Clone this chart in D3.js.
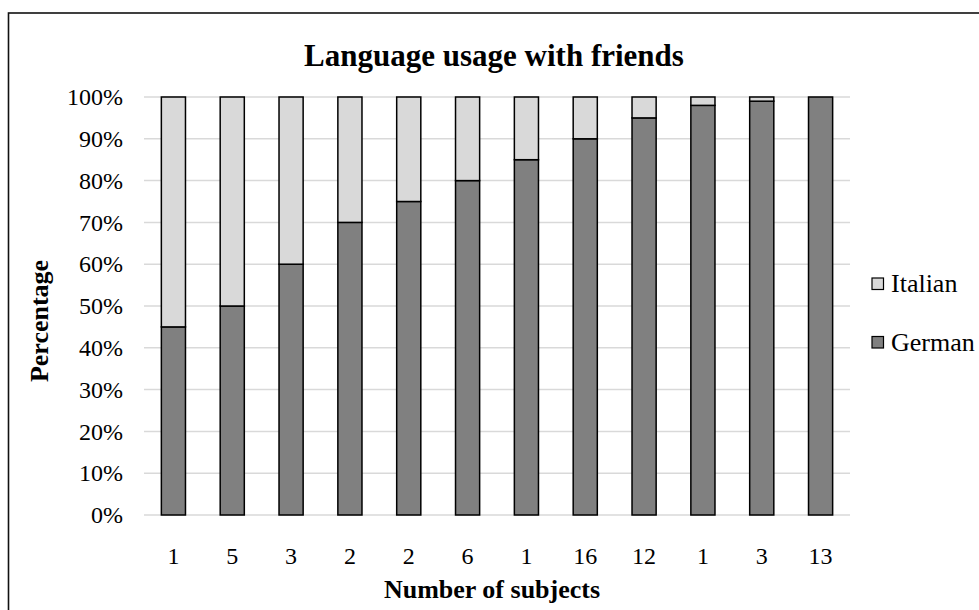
<!DOCTYPE html>
<html><head><meta charset="utf-8">
<script src="https://cdn.jsdelivr.net/npm/d3@7"></script>
<style>body{margin:0;background:#fff}svg{display:block}text{font-family:"Liberation Serif","Times New Roman",serif}</style>
</head><body><svg id="c" width="979" height="610"></svg>
<script>
const categories = ["1","5","3","2","2","6","1","16","12","1","3","13"];
const german = [45,50,60,70,75,80,85,90,95,98,99,100];
const italian = [55,50,40,30,25,20,15,10,5,2,1,0];
const yTicks = [0,10,20,30,40,50,60,70,80,90,100];
const seriesNames = ["German","Italian"];
const colors = {German:"#808080", Italian:"#d9d9d9"};

const svg = d3.select("#c");
svg.append("rect").attr("x",8.5).attr("y",13).attr("width",1000).attr("height",700)
  .attr("fill","none").attr("stroke","#111").attr("stroke-width",1.6);

const m = {l:144, r:850, t:97, b:515};
const x = d3.scaleBand().domain(d3.range(categories.length)).range([m.l,m.r]).paddingInner(0.59).paddingOuter(0.295);
const y = d3.scaleLinear().domain([0,100]).range([m.b,m.t]);

svg.append("g").selectAll("line").data(yTicks).join("line")
  .attr("x1",m.l).attr("x2",m.r).attr("y1",d=>y(d)).attr("y2",d=>y(d))
  .attr("stroke","#d9d9d9").attr("stroke-width",1.5);

const ya = svg.append("g").attr("transform",`translate(${m.l-21},0)`)
  .call(d3.axisLeft(y).tickValues(yTicks).tickFormat(d=>d+"%").tickSize(0).tickPadding(0));
ya.select(".domain").remove();
ya.selectAll("text").attr("font-size",24).attr("font-family","Liberation Serif").attr("fill","#000");

const xa = svg.append("g").attr("transform",`translate(0,${m.b+32})`)
  .call(d3.axisBottom(x).tickFormat(i=>categories[i]).tickSize(0).tickPadding(0));
xa.select(".domain").remove();
xa.selectAll("text").attr("font-size",24).attr("font-family","Liberation Serif").attr("fill","#000").attr("dy","0.71em");

const rows = categories.map((c,i)=>({i, German:german[i], Italian:italian[i]}));
const stack = d3.stack().keys(seriesNames)(rows);
svg.append("g").selectAll("g").data(stack).join("g")
  .attr("fill",d=>colors[d.key])
  .selectAll("rect").data(d=>d.filter(p=>p[1]-p[0]>0)).join("rect")
  .attr("x",d=>x(d.data.i)).attr("width",x.bandwidth())
  .attr("y",d=>y(d[1])).attr("height",d=>y(d[0])-y(d[1]))
  .attr("stroke","#000").attr("stroke-width",1.5);

svg.append("text").attr("x",494).attr("y",66).attr("text-anchor","middle")
  .attr("font-size",31).attr("font-weight","bold").text("Language usage with friends");
svg.append("text").attr("x",492).attr("y",598).attr("text-anchor","middle")
  .attr("font-size",26).attr("font-weight","bold").text("Number of subjects");
svg.append("text").attr("transform","translate(48,321) rotate(-90)").attr("text-anchor","middle")
  .attr("font-size",26).attr("font-weight","bold").text("Percentage");

const leg = svg.append("g");
["Italian","German"].forEach((k,j)=>{
  const yy = 284 + j*58.5;
  leg.append("rect").attr("x",872).attr("y",yy-6).attr("width",11.5).attr("height",11.5)
    .attr("fill",colors[k]).attr("stroke","#000").attr("stroke-width",1.2);
  leg.append("text").attr("x",891).attr("y",yy+8).attr("font-size",26).text(k);
});
</script></body></html>
